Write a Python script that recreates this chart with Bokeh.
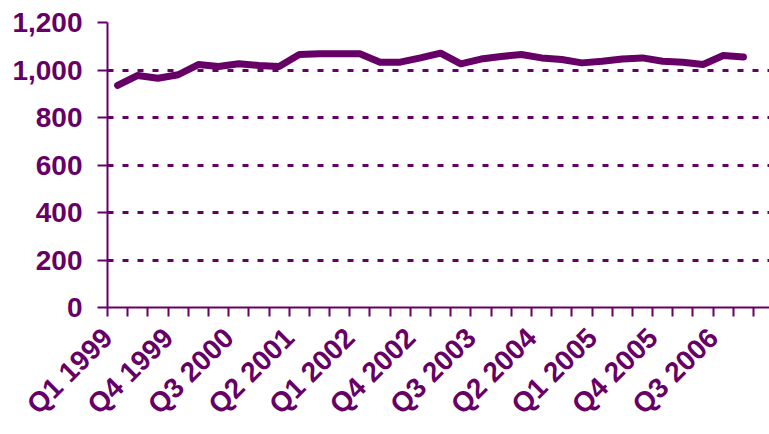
from bokeh.embed import file_html
from bokeh.models import (CustomJSTickFormatter, FixedTicker,
                          NumeralTickFormatter, Range1d)
from bokeh.plotting import figure
from bokeh.resources import INLINE
import math

# Quarterly series, Q1 1999 .. Q4 2006
quarters = [f"Q{q} {y}" for y in range(1999, 2007) for q in range(1, 5)]
values = [935, 977, 965, 980, 1023, 1015, 1026, 1019, 1015, 1065, 1068, 1068,
          1068, 1033, 1033, 1051, 1071, 1026, 1046, 1057, 1065, 1051, 1044, 1030,
          1037, 1046, 1051, 1037, 1033, 1023, 1061, 1055]

# every third quarter carries a label
label_every = 3
y_ticks = [0, 200, 400, 600, 800, 1000, 1200]

PURPLE = "#660066"
FONT = "Liberation Sans"
NBSP = "\u00a0"

x = list(range(len(quarters)))

p = figure(width=769, height=434, output_backend="svg", toolbar_location=None,
           x_range=Range1d(-0.5, 32.29), y_range=Range1d(0, 1200),
           min_border_left=107, min_border_right=0, min_border_top=22,
           min_border_bottom=127)
p.outline_line_color = None
p.background_fill_color = "white"
p.border_fill_color = "white"

# horizontal dashed grid
p.xgrid.visible = False
p.ygrid.ticker = FixedTicker(ticks=y_ticks[1:])
p.ygrid.grid_line_color = PURPLE
p.ygrid.grid_line_width = 3
p.ygrid.grid_line_dash = "6 9"

# value axis
ya = p.yaxis[0]
ya.ticker = FixedTicker(ticks=y_ticks)
ya.formatter = NumeralTickFormatter(format="0,0")
ya.axis_line_color = PURPLE
ya.axis_line_width = 2
ya.major_tick_line_color = PURPLE
ya.major_tick_line_width = 2
ya.major_tick_out = 10
ya.major_tick_in = 0
ya.minor_tick_line_color = None
ya.major_label_standoff = 15
ya.major_label_text_font = FONT
ya.major_label_text_font_style = "bold"
ya.major_label_text_font_size = "28px"
ya.major_label_text_color = PURPLE

# category axis: short marks between quarters (minor ticks),
# slanted labels on every third quarter (major ticks, no mark)
lab_idx = x[::label_every]
lab_text = [quarters[i] + NBSP for i in lab_idx]
lab_shift = -0.22

xa = p.xaxis[0]
xa.ticker = FixedTicker(ticks=[i + lab_shift for i in lab_idx],
                        minor_ticks=[i - 0.5 for i in range(len(quarters) + 1)])
xa.formatter = CustomJSTickFormatter(args=dict(labels=lab_text),
                                     code="return labels[index] ?? ''")
xa.axis_line_color = PURPLE
xa.axis_line_width = 2
xa.major_tick_line_color = None
xa.major_tick_out = 0
xa.major_tick_in = 0
xa.minor_tick_line_color = PURPLE
xa.minor_tick_line_width = 2
xa.minor_tick_out = 9
xa.minor_tick_in = 0
xa.major_label_orientation = math.pi / 4
xa.major_label_standoff = 11
xa.major_label_text_font = FONT
xa.major_label_text_font_style = "bold"
xa.major_label_text_font_size = "28px"
xa.major_label_text_color = PURPLE

p.line(x, values, line_color=PURPLE, line_width=7,
       line_cap="round", line_join="round")

open("out.html", "w").write(file_html(p, INLINE))
